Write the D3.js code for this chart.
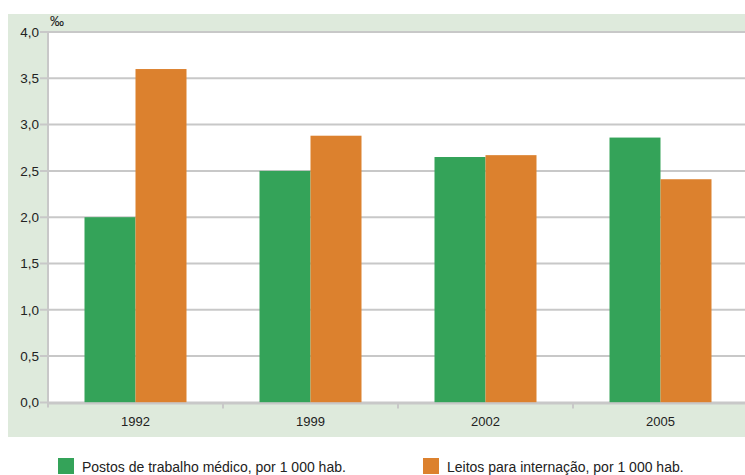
<!DOCTYPE html>
<html>
<head>
<meta charset="utf-8">
<script src="https://cdn.jsdelivr.net/npm/d3@7"></script>
<style>
  html, body { margin: 0; padding: 0; background: #fff; }
  svg { display: block; }
  text { font-family: "Liberation Sans", Arial, sans-serif; fill: #222; }
</style>
</head>
<body>
<svg id="chart" width="745" height="475"></svg>
<script>
// Data
const years = ["1992", "1999", "2002", "2005"];
const postosMedicos = [2.0, 2.5, 2.65, 2.86];
const leitosInternacao = [3.6, 2.88, 2.67, 2.41];
const yTicks = [0, 0.5, 1.0, 1.5, 2.0, 2.5, 3.0, 3.5, 4.0];
const seriesNames = ["Postos de trabalho médico, por 1 000 hab.", "Leitos para internação, por 1 000 hab."];
const seriesColors = ["#34a359", "#dc812e"];

const svg = d3.select("#chart");
const plot = { left: 48, right: 748, top: 32, bottom: 402.4 };

// Light green panel behind the plot
svg.append("rect")
  .attr("x", 8).attr("y", 14)
  .attr("width", 745 - 8).attr("height", 437 - 14)
  .attr("fill", "#deeadc");

// White plotting area
svg.append("rect")
  .attr("x", plot.left).attr("y", plot.top)
  .attr("width", 745 - plot.left).attr("height", plot.bottom - plot.top)
  .attr("fill", "#fff");

const x = d3.scaleBand().domain(years).range([plot.left, plot.right]).paddingInner(0).paddingOuter(0);
const y = d3.scaleLinear().domain([0, 4]).range([plot.bottom, plot.top]);

const fmt = d => d.toFixed(1).replace(".", ",");

// Gridlines
svg.append("g")
  .selectAll("line")
  .data(yTicks)
  .join("line")
  .attr("x1", plot.left - 8).attr("x2", 745)
  .attr("y1", d => y(d)).attr("y2", d => y(d))
  .attr("stroke", "#c8c8c8").attr("stroke-width", 2);

// Y axis labels
const yAxis = d3.axisLeft(y).tickValues(yTicks).tickFormat(fmt).tickSize(0).tickPadding(9);
const gy = svg.append("g").attr("transform", `translate(${plot.left},0)`).call(yAxis);
gy.select(".domain").remove();
gy.selectAll("text")
  .attr("font-size", 13.5)
  .attr("fill", "#222")
  .style("font-family", "'Liberation Sans', Arial, sans-serif");

// Y axis line
svg.append("line")
  .attr("x1", plot.left).attr("x2", plot.left)
  .attr("y1", plot.top - 1).attr("y2", plot.bottom + 5)
  .attr("stroke", "#c8c8c8").attr("stroke-width", 2);

// Bars
const barW = 51;
const groups = svg.append("g")
  .selectAll("g")
  .data(years)
  .join("g")
  .attr("transform", d => `translate(${x(d) + x.bandwidth() / 2},0)`);

groups.append("rect")
  .attr("x", -barW)
  .attr("y", (d, i) => y(postosMedicos[i]))
  .attr("width", barW)
  .attr("height", (d, i) => y(0) - y(postosMedicos[i]))
  .attr("fill", seriesColors[0]);

groups.append("rect")
  .attr("x", 0)
  .attr("y", (d, i) => y(leitosInternacao[i]))
  .attr("width", barW)
  .attr("height", (d, i) => y(0) - y(leitosInternacao[i]))
  .attr("fill", seriesColors[1]);

// X axis
const xAxis = d3.axisBottom(x).tickSize(0).tickPadding(14);
const gx = svg.append("g").attr("transform", `translate(0,${plot.bottom})`).call(xAxis);
gx.select(".domain").remove();
gx.selectAll("text")
  .attr("font-size", 13)
  .attr("fill", "#222")
  .style("font-family", "'Liberation Sans', Arial, sans-serif");

svg.append("line")
  .attr("x1", plot.left).attr("x2", 745)
  .attr("y1", plot.bottom + 1).attr("y2", plot.bottom + 1)
  .attr("stroke", "#c8c8c8").attr("stroke-width", 2);

// Category boundary ticks
svg.append("g")
  .selectAll("line")
  .data(years.slice(1))
  .join("line")
  .attr("x1", d => x(d)).attr("x2", d => x(d))
  .attr("y1", plot.bottom).attr("y2", plot.bottom + 6)
  .attr("stroke", "#c8c8c8").attr("stroke-width", 2);

// Unit label
svg.append("text")
  .attr("x", 50).attr("y", 26)
  .attr("font-size", 14)
  .text("‰");

// Legend
const legendX = [58, 423];
const legend = svg.append("g")
  .selectAll("g")
  .data(seriesNames)
  .join("g")
  .attr("transform", (d, i) => `translate(${legendX[i]},458)`);
legend.append("rect")
  .attr("width", 16).attr("height", 16)
  .attr("fill", (d, i) => seriesColors[i]);
legend.append("text")
  .attr("x", 24).attr("y", 13.5)
  .attr("font-size", 14)
  .text(d => d);
</script>
</body>
</html>
